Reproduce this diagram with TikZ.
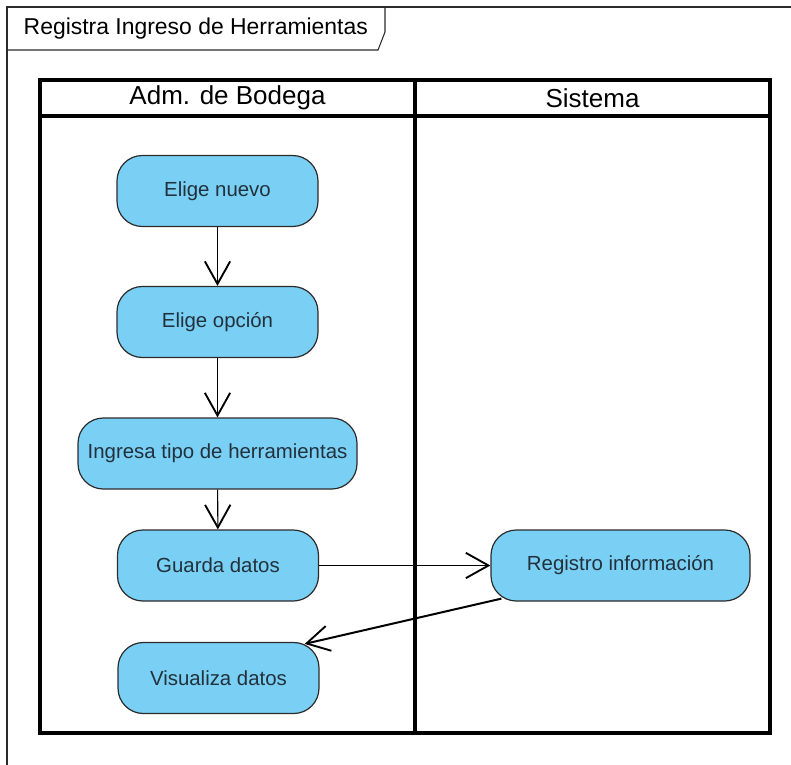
\documentclass[tikz,border=0pt]{standalone}
\usepackage{fontspec}
\setmainfont{Liberation Sans}
\usetikzlibrary{arrows.meta,calc}
\definecolor{actfill}{HTML}{7ACFF5}
\definecolor{actline}{HTML}{2B2B2B}
\definecolor{acttext}{HTML}{22313B}
\begin{document}
\begin{tikzpicture}[x=0.75pt,y=-0.75pt,
  action/.style={draw=actline,line width=0.9pt,fill=actfill,rectangle,
    rounded corners=19pt,minimum width=150.75pt,minimum height=53.25pt,
    inner sep=0pt,text=acttext,font=\fontsize{15.3}{17}\selectfont},
  flow/.style={draw=black,line width=0.8pt,
    -{Straight Barb[length=17pt,width=19pt,line width=1.4pt]}},
  lane/.style={draw=black,line width=2.4pt},
  frame/.style={draw=actline,line width=0.8pt}]
\useasboundingbox (0,0) rectangle (791,764);
% outer diagram frame and its name tab
\draw[frame] (7,770) -- (7,7) -- (800,7);
\draw[frame] (7,50) -- (378,50) -- (385,32) -- (385,7);
\node[anchor=west,font=\fontsize{17.2}{19}\selectfont,text=black] (title) at (19,29) {Registra Ingreso de Herramientas};
% swimlanes
\draw[lane] (40,80) rectangle (770,733);
\draw[lane] (40,116) -- (770,116);
\draw[lane] (415,80) -- (415,733);
\node[font=\fontsize{19.5}{22}\selectfont] (laneA) at (227.5,98) {Adm. de Bodega};
\node[font=\fontsize{19.5}{22}\selectfont] (laneB) at (592.5,98) {Sistema};
% actions
\node[action] (n1) at (217.5,191) {Elige nuevo};
\node[action] (n2) at (217.5,322) {Elige opción};
\node[action,minimum width=209.25pt] (n3) at (217.5,453.5) {Ingresa tipo de herramientas};
\node[action] (n4) at (218,565.5) {Guarda datos};
\node[action,minimum width=194.25pt] (n5) at (620.5,565.5) {Registro información};
\node[action] (n6) at (218.5,678) {Visualiza datos};
% control flows
\draw[flow] (n1) -- (n2);
\draw[flow] (n2) -- (n3);
\draw[flow] (n3) -- (n4);
\draw[flow] (n4) -- (n5);
\coordinate (rs) at ($(n5.south west)+(11,-3)$);
\coordinate (ve) at ($(n6.north east)+(-15,2)$);
\draw[flow,line width=1.5pt] (rs) -- (ve);
\end{tikzpicture}
\end{document}
